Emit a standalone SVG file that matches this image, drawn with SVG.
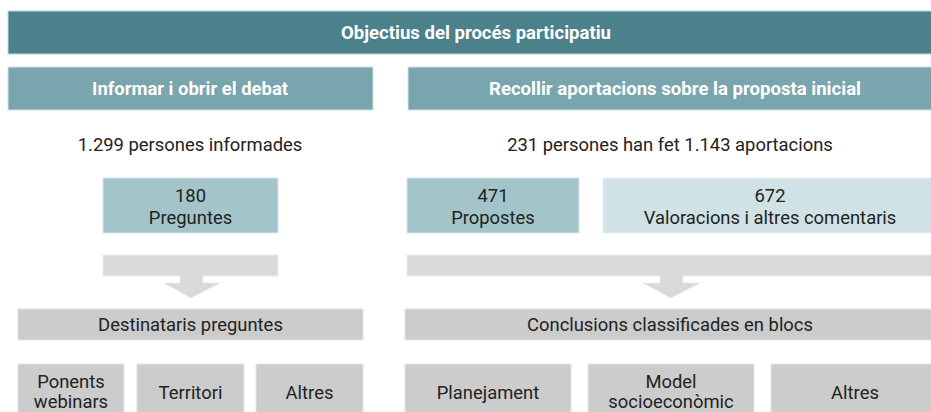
<svg xmlns="http://www.w3.org/2000/svg" width="931" height="412" viewBox="0 0 931 412">
<style>
.hd{font-family:Roboto,"Liberation Sans",sans-serif;font-weight:700;font-size:18px;fill:#ffffff;text-anchor:middle}
.tx{font-family:Roboto,"Liberation Sans",sans-serif;font-size:18.4px;fill:#222222;text-anchor:middle}
.dark{fill:#4a818b;stroke:#c2d8db;stroke-width:1}
.mid{fill:#78a5ae;stroke:#d3e3e6;stroke-width:1}
.teal{fill:#a3c5c9;stroke:#d6e6e8;stroke-width:1}
.pale{fill:#d0e2e5;stroke:#e6f0f1;stroke-width:1}
.gray{fill:#cccccc;stroke:#e4e4e4;stroke-width:1}
.arrow{fill:#d9d9d9;stroke:#ececec;stroke-width:1}
</style>
<rect width="931" height="412" fill="#ffffff"/>
<g id="connectors">
<path class="arrow" d="M103,255 H278 V276 H203 V283 H220 L191,298 L164,283 H180 V276 H103 Z"/>
<path class="arrow" d="M407,255 H945 V276 H683 V283 H700 L671,298 L643,283 H660 V276 H407 Z"/>
</g>
<g id="title"><rect class="dark" x="8" y="11" width="940" height="43"/><text class="hd" x="476" y="39" textLength="270" lengthAdjust="spacingAndGlyphs">Objectius del procés participatiu</text></g>
<g id="informar"><rect class="mid" x="8" y="67" width="365" height="43"/><text class="hd" x="190" y="95" textLength="196" lengthAdjust="spacingAndGlyphs">Informar i obrir el debat</text></g>
<g id="recollir"><rect class="mid" x="408" y="67" width="540" height="43"/><text class="hd" x="675" y="95" textLength="372" lengthAdjust="spacingAndGlyphs">Recollir aportacions sobre la proposta inicial</text></g>
<g id="informades"><text class="tx" x="190" y="151">1.299 persones informades</text></g>
<g id="aportacions"><text class="tx" x="670" y="151">231 persones han fet 1.143 aportacions</text></g>
<g id="preguntes"><rect class="teal" x="103" y="178" width="175" height="55"/><text class="tx" x="190.5" y="202">180</text><text class="tx" x="190.5" y="224">Preguntes</text></g>
<g id="propostes"><rect class="teal" x="407" y="178" width="172" height="55"/><text class="tx" x="493" y="202">471</text><text class="tx" x="493" y="224">Propostes</text></g>
<g id="valoracions"><rect class="pale" x="603" y="178" width="345" height="55"/><text class="tx" x="770" y="202">672</text><text class="tx" x="770" y="224">Valoracions i altres comentaris</text></g>
<g id="destinataris"><rect class="gray" x="18" y="309" width="345" height="31"/><text class="tx" x="190.5" y="331">Destinataris preguntes</text></g>
<g id="conclusions"><rect class="gray" x="405" y="309" width="545" height="31"/><text class="tx" x="670" y="331">Conclusions classificades en blocs</text></g>
<g id="ponents"><rect class="gray" x="18" y="364" width="106" height="60"/><text class="tx" x="71" y="388">Ponents</text><text class="tx" x="71" y="408">webinars</text></g>
<g id="territori"><rect class="gray" x="137" y="364" width="107" height="60"/><text class="tx" x="190.5" y="399">Territori</text></g>
<g id="altres1"><rect class="gray" x="256" y="364" width="107" height="60"/><text class="tx" x="309.5" y="399">Altres</text></g>
<g id="planejament"><rect class="gray" x="405" y="364" width="166" height="60"/><text class="tx" x="488" y="399">Planejament</text></g>
<g id="model"><rect class="gray" x="588" y="364" width="166" height="60"/><text class="tx" x="671" y="388">Model</text><text class="tx" x="671" y="408">socioeconòmic</text></g>
<g id="altres2"><rect class="gray" x="771" y="364" width="180" height="60"/><text class="tx" x="855" y="399">Altres</text></g>
</svg>
